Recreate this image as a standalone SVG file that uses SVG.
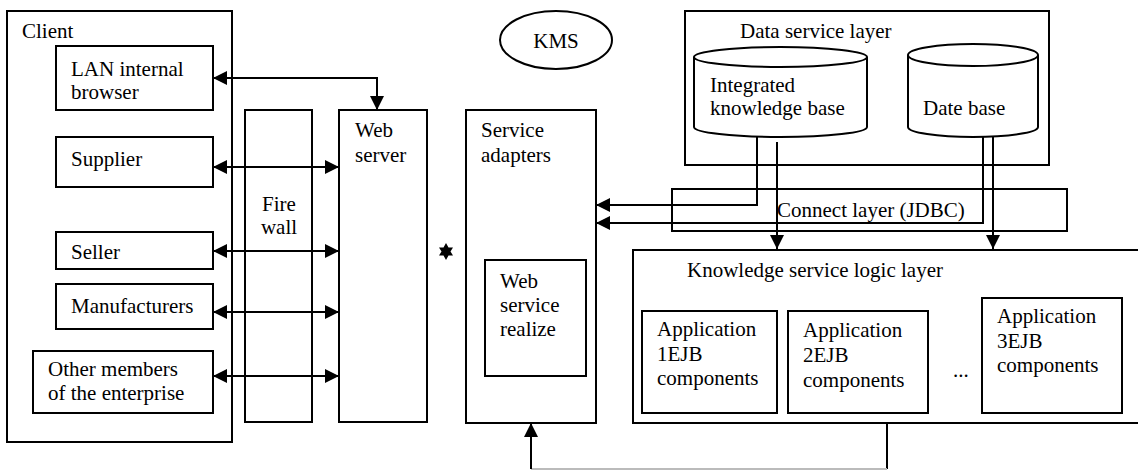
<svg xmlns="http://www.w3.org/2000/svg" width="1138" height="470" viewBox="0 0 1138 470">
<style>
text{font-family:"Liberation Serif","Times New Roman",serif;font-size:21px;fill:#000}
.b{fill:#fff;stroke:#000;stroke-width:2}
.c{fill:none;stroke:#000;stroke-width:2}
</style>
<defs>
<marker id="ah" markerWidth="14" markerHeight="14" viewBox="0 0 14 14" refX="14" refY="7" orient="auto-start-reverse" markerUnits="userSpaceOnUse">
<path d="M0,0 L14,7 L0,14 Z" fill="#000"/>
</marker>
</defs>
<rect width="1138" height="470" fill="#fff"/>
<g id="client">
<rect class="b" x="7" y="11" width="225" height="431"/>
<text x="22" y="38">Client</text>
</g>
<g id="lan">
<rect class="b" x="56" y="46" width="157" height="64"/>
<text x="71" y="76">LAN internal</text>
<text x="71" y="99">browser</text>
</g>
<g id="supplier">
<rect class="b" x="56" y="137" width="157" height="50"/>
<text x="71" y="166">Supplier</text>
</g>
<g id="seller">
<rect class="b" x="56" y="232" width="157" height="37"/>
<text x="71" y="259">Seller</text>
</g>
<g id="manufacturers">
<rect class="b" x="56" y="284" width="157" height="45"/>
<text x="71" y="313">Manufacturers</text>
</g>
<g id="other">
<rect class="b" x="33" y="351" width="180" height="62"/>
<text x="48" y="376">Other members</text>
<text x="48" y="400">of the enterprise</text>
</g>
<g id="firewall">
<rect class="b" x="245" y="110" width="67" height="312"/>
<text x="279" y="211" text-anchor="middle">Fire</text>
<text x="279" y="234" text-anchor="middle">wall</text>
</g>
<g id="webserver">
<rect class="b" x="339" y="110" width="88" height="312"/>
<text x="355" y="137">Web</text>
<text x="355" y="162">server</text>
</g>
<g id="kms">
<ellipse class="b" cx="556" cy="40" rx="56" ry="29"/>
<text x="556" y="48" text-anchor="middle">KMS</text>
</g>
<g id="star">
<path d="M446,243 L448.5,247.5 L453,247.5 L450.5,251.5 L453,255.5 L448.5,255.5 L446,260 L443.5,255.5 L439,255.5 L441.5,251.5 L439,247.5 L443.5,247.5 Z" fill="#000"/>
</g>
<g id="serviceadapters">
<rect class="b" x="466" y="110" width="130" height="313"/>
<text x="481" y="137">Service</text>
<text x="481" y="162">adapters</text>
</g>
<g id="webservice">
<rect class="b" x="485" y="260" width="101" height="116"/>
<text x="500" y="288">Web</text>
<text x="500" y="312">service</text>
<text x="500" y="336">realize</text>
</g>
<g id="dataservice">
<rect class="b" x="685" y="11" width="364" height="154"/>
<text x="740" y="38">Data service layer</text>
</g>
<g id="kb">
<path class="b" d="M694,57 L694,127 A86.5,10 0 0 0 867,127 L867,57"/>
<ellipse class="b" cx="780.5" cy="57" rx="86.5" ry="10"/>
<text x="710" y="92">Integrated</text>
<text x="710" y="115">knowledge base</text>
</g>
<g id="db">
<path class="b" d="M908,55 L908,127 A65,10 0 0 0 1038,127 L1038,55"/>
<ellipse class="b" cx="973" cy="55" rx="65" ry="11"/>
<text x="923" y="115">Date base</text>
</g>
<g id="connect">
<rect class="c" x="672" y="189" width="395" height="42"/>
<text x="777" y="217">Connect layer (JDBC)</text>
</g>
<g id="logic">
<rect class="b" x="633" y="250" width="520" height="173"/>
<text x="687" y="277">Knowledge service logic layer</text>
</g>
<g id="app1">
<rect class="b" x="642" y="311" width="135" height="102"/>
<text x="657" y="336">Application</text>
<text x="657" y="361">1EJB</text>
<text x="657" y="385">components</text>
</g>
<g id="app2">
<rect class="b" x="788" y="311" width="140" height="102"/>
<text x="803" y="337">Application</text>
<text x="803" y="362">2EJB</text>
<text x="803" y="387">components</text>
</g>
<text x="953" y="377">...</text>
<g id="app3">
<rect class="b" x="982" y="298" width="140" height="115"/>
<text x="997" y="323">Application</text>
<text x="997" y="348">3EJB</text>
<text x="997" y="372">components</text>
</g>
<g id="connectors">
<path class="c" d="M213,78 L377,78 L377,110" marker-start="url(#ah)" marker-end="url(#ah)"/>
<path class="c" d="M213,167 L339,167" marker-start="url(#ah)" marker-end="url(#ah)"/>
<path class="c" d="M213,251 L339,251" marker-start="url(#ah)" marker-end="url(#ah)"/>
<path class="c" d="M213,312 L339,312" marker-start="url(#ah)" marker-end="url(#ah)"/>
<path class="c" d="M213,376 L339,376" marker-start="url(#ah)" marker-end="url(#ah)"/>
<path class="c" d="M757,137 L757,205 L596,205" marker-end="url(#ah)"/>
<path class="c" d="M983,137 L983,223 L596,223" marker-end="url(#ah)"/>
<path class="c" d="M777,142 L777,249" marker-end="url(#ah)"/>
<path class="c" d="M993,137 L993,249" marker-end="url(#ah)"/>
<path class="c" d="M887,423 L887,469"/>
<path d="M887,469 L531,469" fill="none" stroke="#bbb" stroke-width="2"/>
<path class="c" d="M531,469 L531,423" marker-end="url(#ah)"/>
</g>
</svg>
